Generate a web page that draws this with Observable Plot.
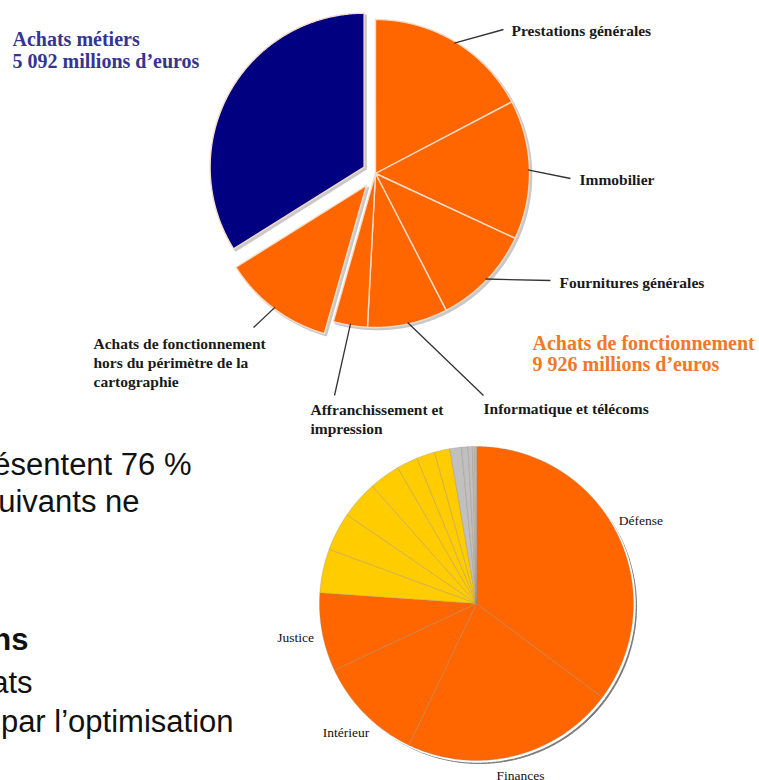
<!DOCTYPE html>
<html><head><meta charset="utf-8">
<script src="https://cdn.jsdelivr.net/npm/d3@7"></script>
<script src="https://cdn.jsdelivr.net/npm/@observablehq/plot@0.6"></script>
<style>body{margin:0;background:#fff} svg{display:block}</style>
</head><body><div id="chart"></div>
<script>
// ---------- DATA ----------
// Top pie: achats de l'État (millions d'euros)
const achatsCategories = ["Prestations générales", "Immobilier", "Fournitures générales", "Informatique et télécoms", "Affranchissement et impression", "Achats de fonctionnement hors du périmètre de la cartographie", "Achats métiers"];
const achatsValues = [2599, 2194, 1577, 1264, 538, 1754, 5092];
const achatsGroups = ["fonctionnement", "fonctionnement", "fonctionnement", "fonctionnement", "fonctionnement", "fonctionnement", "métiers"];
const achatsLabels = ["Prestations générales", "Immobilier", "Fournitures générales", "Informatique et télécoms", "Affranchissement et\nimpression", "Achats de fonctionnement\nhors du périmètre de la\ncartographie", null];
const totalTitles = {"métiers": "Achats métiers", "fonctionnement": "Achats de fonctionnement"};

// Bottom pie: part des achats par ministère (%)
const ministeres = ["Défense", "Finances", "Intérieur", "Justice", "Éducation nationale", "Écologie", "Agriculture", "Affaires étrangères", "Culture", "Santé", "Enseignement supérieur", "Travail", "Outre-mer", "Services du Premier ministre", "Jeunesse et sports", "Autres"];
const partsMinisteres = [35.19, 21.89, 10.92, 8.06, 4.53, 3.94, 3.89, 3.19, 2.17, 1.89, 1.58, 1.19, 0.67, 0.44, 0.25, 0.17];
const groupesMinisteres = ["principaux", "principaux", "principaux", "principaux", "suivants", "suivants", "suivants", "suivants", "suivants", "suivants", "suivants", "autres", "autres", "autres", "autres", "autres"];
const ministeresEtiquetes = ["Défense", "Finances", "Intérieur", "Justice"];

// Slide text fragments visible behind the charts
const slideLines = ["ésentent 76 %", "uivants ne", "ns", "ats", "par l’optimisation"];

// ---------- LAYOUT / STYLE ----------
const W = 759, H = 780;
const topPie = {cx: 375, cy: 173, r: 154, explode: {"Achats métiers": 13, "Achats de fonctionnement hors du périmètre de la cartographie": 15}};
const bottomPie = {cx: 476, cy: 603, r: 157, labelR: 184, labelMaxY: 775};
const topLabelLayout = [
  {leader: [503, 29], text: [511, 29]},
  {leader: [570, 178], text: [579, 178]},
  {leader: [550, 280], text: [559, 281]},
  {leader: [483, 395], text: [483, 407]},
  {leader: [334, 395], text: [310, 417.5]},
  {leader: [253, 327], text: [93, 361]},
  null
];
const titleLayout = {"métiers": {x: 12, y: 49.5, color: "#35358f"}, "fonctionnement": {x: 532, y: 353, color: "#f07828"}};
const slideLayout = [
  {x: 191, y: 465, bold: false}, {x: 139, y: 502, bold: false}, {x: 28, y: 640, bold: true},
  {x: 32, y: 683, bold: false}, {x: 233, y: 722, bold: false}
];
const serif = "'Liberation Serif', 'Times New Roman', serif";
const sans = "'Liberation Sans', Arial, sans-serif";

// ---------- GEOMETRY FROM DATA ----------
function sectors(names, values, groups, pie) {
  const arcs = d3.pie().sort(null).value(d => d)(values);
  const rows = [], info = [];
  arcs.forEach((a, i) => {
    const name = names[i], group = groups[i];
    const off = (pie.explode && pie.explode[name]) || 0;
    const mid = (a.startAngle + a.endAngle) / 2;
    const ox = pie.cx + off * Math.sin(mid), oy = pie.cy - off * Math.cos(mid);
    const n = Math.max(2, Math.ceil((a.endAngle - a.startAngle) / (Math.PI / 360)));
    rows.push({name, group, x: ox, y: oy});
    for (let k = 0; k <= n; k++) {
      const t = a.startAngle + (a.endAngle - a.startAngle) * k / n;
      rows.push({name, group, x: ox + pie.r * Math.sin(t), y: oy - pie.r * Math.cos(t)});
    }
    rows.push({name, group, x: ox, y: oy});
    info.push({name, group, mid, ox, oy, i});
  });
  return {rows, info};
}

const topSec = sectors(achatsCategories, achatsValues, achatsGroups, topPie);
const bottomSec = sectors(ministeres, partsMinisteres, groupesMinisteres, bottomPie);

const topLabels = topSec.info.filter(d => achatsLabels[d.i]).map(d => {
  const L = topLabelLayout[d.i];
  return {
    label: achatsLabels[d.i],
    x1: d.ox + topPie.r * 0.99 * Math.sin(d.mid), y1: d.oy - topPie.r * 0.99 * Math.cos(d.mid),
    x2: L.leader[0], y2: L.leader[1], tx: L.text[0], ty: L.text[1]
  };
});

const fr = d3.formatLocale({decimal: ",", thousands: " ", grouping: [3], currency: ["", " €"]}).format(",");
const titles = ["métiers", "fonctionnement"].map(g => {
  const total = d3.sum(achatsValues.filter((v, i) => achatsGroups[i] === g));
  return {text: `${totalTitles[g]}\n${fr(total)} millions d’euros`, ...titleLayout[g]};
});

const bottomLabels = bottomSec.info.filter(d => ministeresEtiquetes.includes(d.name)).map(d => ({
  name: d.name,
  x: bottomPie.cx + bottomPie.labelR * Math.sin(d.mid),
  y: Math.min(bottomPie.labelMaxY, bottomPie.cy - bottomPie.labelR * Math.cos(d.mid))
}));

const slide = slideLines.map((t, i) => ({text: t, ...slideLayout[i]}));

// ---------- PLOT ----------
const chart = Plot.plot({
  width: W, height: H, margin: 0,
  x: {domain: [0, W], range: [0, W], axis: null},
  y: {domain: [0, H], range: [0, H], axis: null},
  color: {domain: ["métiers", "fonctionnement", "principaux", "suivants", "autres"], range: ["#000080", "#ff6600", "#ff6600", "#ffcc00", "#c0c0c0"]},
  style: {background: "#fff", overflow: "hidden"},
  marks: [
    // slide text
    Plot.text(slide.filter(d => !d.bold), {x: "x", y: "y", text: "text", textAnchor: "end", fontSize: 31, fontFamily: sans, fill: "#111"}),
    Plot.text(slide.filter(d => d.bold), {x: "x", y: "y", text: "text", textAnchor: "end", fontSize: 31, fontWeight: "bold", fontFamily: sans, fill: "#111"}),
    // top pie
    Plot.line(topSec.rows, {x: "x", y: "y", z: "name", fill: "#c8c8c8", stroke: "#c8c8c8", strokeWidth: 1.5, dx: 2, dy: 2}),
    Plot.line(topSec.rows, {x: "x", y: "y", z: "name", fill: "group", stroke: "#f6dcc8", strokeWidth: 1.4}),
    Plot.link(topLabels, {x1: "x1", y1: "y1", x2: "x2", y2: "y2", stroke: "#333", strokeWidth: 1.3}),
    Plot.text(topLabels, {x: "tx", y: "ty", text: "label", textAnchor: "start", fontSize: 15.5, fontWeight: "bold", fontFamily: serif, lineHeight: 1.23, fill: "#1a1a1a"}),
    Plot.text(titles, {x: "x", y: "y", text: "text", fill: d => d.color, textAnchor: "start", fontSize: 20, fontWeight: "bold", fontFamily: serif, lineHeight: 1.08}),
    // bottom pie
    Plot.line(bottomSec.rows, {x: "x", y: "y", z: "name", fill: "#7a7a7a", stroke: "#7a7a7a", strokeWidth: 1, dx: 3, dy: 3}),
    Plot.line(bottomSec.rows, {x: "x", y: "y", z: "name", fill: "#fff", stroke: "#fff", strokeWidth: 2, dx: 1.2, dy: 1.2}),
    Plot.line(bottomSec.rows, {x: "x", y: "y", z: "name", fill: "group", stroke: "#9a8a70", strokeWidth: 0.5, strokeOpacity: 0.7}),
    Plot.text(bottomLabels, {x: "x", y: "y", text: "name", fontSize: 13.5, fontFamily: serif, fill: "#111"})
  ]
});
document.getElementById("chart").appendChild(chart);
</script>
</body></html>
